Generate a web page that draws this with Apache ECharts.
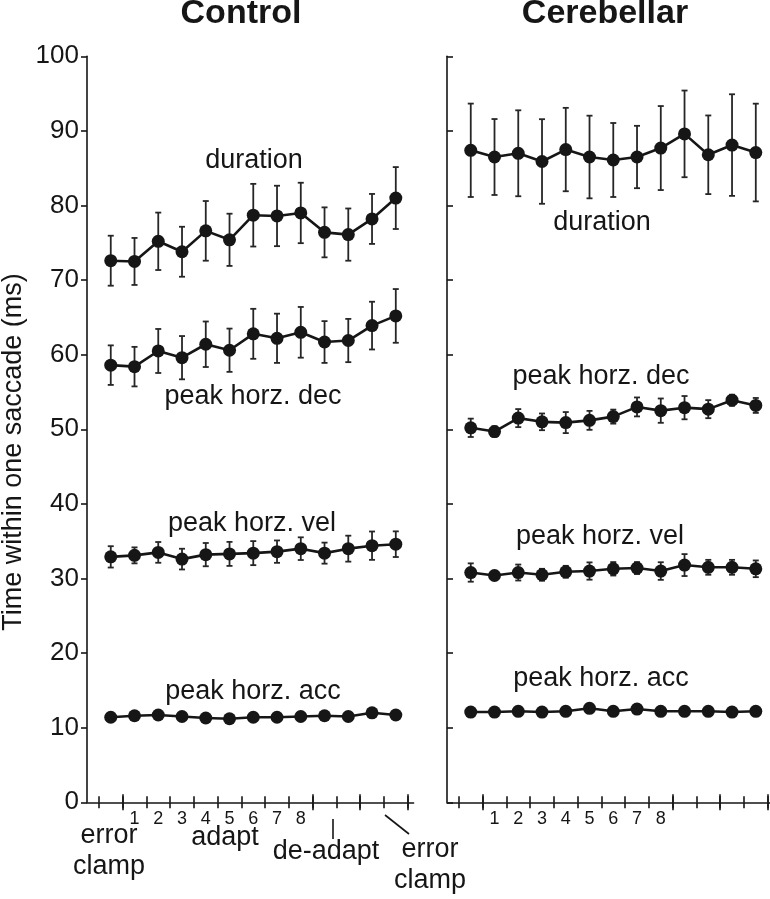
<!DOCTYPE html>
<html>
<head>
<meta charset="utf-8">
<script src="https://cdn.jsdelivr.net/npm/echarts@6/dist/echarts.min.js"></script>
<style>
html,body{margin:0;padding:0;background:#fff;}
#chart{width:770px;height:899px;}
</style>
</head>
<body>
<div id="chart"></div>
<script>
// ---- data ----
const trials = [1,2,3,4,5,6,7,8,9,10,11,12,13];

const ctrlDuration    = [72.6,72.5,75.2,73.8,76.6,75.4,78.7,78.6,79.0,76.4,76.1,78.2,81.0];
const ctrlDurationErr = [3.35,3.15,3.85,3.35,4.0,3.5,4.2,4.05,4.05,3.35,3.5,3.35,4.15];
const ctrlDec         = [58.6,58.4,60.5,59.6,61.4,60.6,62.8,62.2,63.0,61.7,61.9,63.9,65.2];
const ctrlDecErr      = [2.65,2.65,2.95,2.9,3.05,2.9,3.35,3.3,3.4,2.8,2.9,3.2,3.6];
const ctrlVel         = [32.9,33.1,33.5,32.6,33.2,33.3,33.4,33.6,34.0,33.4,34.0,34.4,34.6];
const ctrlVelErr      = [1.43,1.07,1.39,1.39,1.56,1.61,1.61,1.5,1.52,1.41,1.74,1.9,1.72];
const ctrlAcc         = [11.4,11.6,11.7,11.5,11.3,11.2,11.4,11.4,11.5,11.6,11.5,12.0,11.7];
const ctrlAccErr      = [0.4,0.4,0.4,0.4,0.4,0.4,0.4,0.4,0.4,0.4,0.4,0.4,0.4];

const cereDuration    = [87.4,86.5,87.0,85.9,87.5,86.5,86.1,86.5,87.7,89.6,86.8,88.1,87.1];
const cereDurationErr = [6.26,5.09,5.76,5.67,5.59,5.54,4.96,4.18,5.63,5.81,5.27,6.81,6.55];
const cereDec         = [50.2,49.7,51.5,51.0,50.9,51.2,51.7,53.0,52.5,52.9,52.7,53.9,53.2];
const cereDecErr      = [1.23,0.7,1.21,1.12,1.41,1.27,0.94,1.27,1.63,1.56,1.21,0.74,1.0];
const cereVel         = [30.8,30.4,30.8,30.5,30.9,31.0,31.3,31.4,31.0,31.8,31.5,31.5,31.3];
const cereVelErr      = [1.23,0.6,1.07,0.8,0.8,1.16,0.9,0.8,1.18,1.47,1.0,1.0,1.12];
const cereAcc         = [12.1,12.1,12.2,12.1,12.2,12.6,12.2,12.5,12.2,12.2,12.2,12.1,12.2];
const cereAccErr      = [0.4,0.4,0.4,0.4,0.4,0.4,0.4,0.4,0.4,0.4,0.4,0.4,0.4];

const minorTicks = [0.5,1.5,2.5,3.5,4.5,5.5,6.5,7.5,8.5,9.5,10.5,11.5,12.5,13.5];
const majorTicks = [1.5,9.5,11.5,13.5];
const trialLabelPos = [2,3,4,5,6,7,8,9];
const trialLabels = ['1','2','3','4','5','6','7','8'];
const yTicks = [0,10,20,30,40,50,60,70,80,90,100];

const panelTitles = ['Control','Cerebellar'];
const yAxisTitle = 'Time within one saccade (ms)';

// ---- chart ----
const FONT = '"Liberation Sans", Arial, Helvetica, sans-serif';
const INK = '#161616';
const chart = echarts.init(document.getElementById('chart'), null, {renderer:'canvas'});

const grids = [
  {left:87, top:56.3, width:326.6, height:746, outerBoundsMode:'none', containLabel:false},
  {left:447, top:56.3, width:326.6, height:746, outerBoundsMode:'none', containLabel:false}
];

const xAxes = [];
const yAxes = [];
[0,1].forEach(g => {
  const base = {type:'value', gridIndex:g, min:0, max:13.75, position:'bottom', splitLine:{show:false}};
  // main axis with outward minor ticks and labels
  xAxes.push(Object.assign({}, base, {
    axisLine:{show:true, onZero:false, lineStyle:{color:INK, width:1.6}},
    axisTick:{show:true, inside:false, length:6, customValues:minorTicks, lineStyle:{color:INK, width:1.6}},
    axisLabel:{show:true, customValues:trialLabelPos, margin:8, fontSize:18, color:INK, fontFamily:FONT,
      formatter: v => trialLabels[trialLabelPos.indexOf(v)] || ''}
  }));
  // inward minor ticks
  xAxes.push(Object.assign({}, base, {
    axisLine:{show:false, onZero:false},
    axisTick:{show:true, inside:true, length:6, customValues:minorTicks, lineStyle:{color:INK, width:1.6}},
    axisLabel:{show:false}
  }));
  // longer ticks at segment boundaries
  xAxes.push(Object.assign({}, base, {
    axisLine:{show:false, onZero:false},
    axisTick:{show:true, inside:true, length:8, customValues:majorTicks, lineStyle:{color:INK, width:1.6}},
    axisLabel:{show:false}
  }));
  xAxes.push(Object.assign({}, base, {
    axisLine:{show:false, onZero:false},
    axisTick:{show:true, inside:false, length:8, customValues:majorTicks, lineStyle:{color:INK, width:1.6}},
    axisLabel:{show:false}
  }));
  yAxes.push({
    type:'value', gridIndex:g, min:0, max:100, interval:10,
    splitLine:{show:false},
    axisLine:{show:true, onZero:false, lineStyle:{color:INK, width:1.6}},
    axisTick:{show:true, inside: g===1, length:6, lineStyle:{color:INK, width:1.6}},
    axisLabel:{show: g===0, margin:8, fontSize:26, color:INK, fontFamily:FONT}
  });
});

function errSeries(means, errs, g) {
  return {
    type:'custom', xAxisIndex:g*4, yAxisIndex:g, z:2, silent:true,
    data: trials.map((t,i) => [t, means[i], errs[i]]),
    renderItem: function(params, api) {
      const x = api.value(0), m = api.value(1), e = api.value(2);
      const top = api.coord([x, m + e]);
      const bot = api.coord([x, m - e]);
      const hw = 3;
      const st = {stroke:'#262626', lineWidth:1.8};
      return {type:'group', children:[
        {type:'line', shape:{x1:top[0], y1:top[1], x2:bot[0], y2:bot[1]}, style:st},
        {type:'line', shape:{x1:top[0]-hw, y1:top[1], x2:top[0]+hw, y2:top[1]}, style:st},
        {type:'line', shape:{x1:bot[0]-hw, y1:bot[1], x2:bot[0]+hw, y2:bot[1]}, style:st}
      ]};
    }
  };
}
function lineSeries(means, g) {
  return {
    type:'line', xAxisIndex:g*4, yAxisIndex:g, z:3, silent:true,
    data: trials.map((t,i) => [t, means[i]]),
    symbol:'circle', symbolSize:13,
    lineStyle:{color:INK, width:2.6},
    itemStyle:{color:INK, borderWidth:0},
    animation:false
  };
}

const groups = [
  [ctrlDuration, ctrlDurationErr, 0],
  [ctrlDec, ctrlDecErr, 0],
  [ctrlVel, ctrlVelErr, 0],
  [ctrlAcc, ctrlAccErr, 0],
  [cereDuration, cereDurationErr, 1],
  [cereDec, cereDecErr, 1],
  [cereVel, cereVelErr, 1],
  [cereAcc, cereAccErr, 1]
];
const series = [];
groups.forEach(([m,e,g]) => { series.push(errSeries(m,e,g)); series.push(lineSeries(m,g)); });

function txt(text, x, y, size, opts) {
  return Object.assign({
    type:'text', x:x, y:y, silent:true,
    style:{text:text, fill:INK, font: (opts && opts.bold ? 'bold ' : '') + size + 'px ' + FONT,
      textAlign:'center', textVerticalAlign:'middle'}
  }, opts && opts.rotation !== undefined ? {rotation:opts.rotation} : {});
}

const graphics = [
  txt(panelTitles[0], 241, 14, 34, {bold:true}),
  txt(panelTitles[1], 605, 14, 34, {bold:true}),
  txt(yAxisTitle, 14, 452, 27, {rotation:Math.PI/2}),
  txt('duration', 254, 160.5, 27),
  txt('peak horz. dec', 253, 397, 27),
  txt('peak horz. vel', 252, 524, 27),
  txt('peak horz. acc', 253, 692, 27),
  txt('duration', 602, 223, 27),
  txt('peak horz. dec', 601, 377, 27),
  txt('peak horz. vel', 600, 537, 27),
  txt('peak horz. acc', 601, 679, 27),
  txt('error', 109, 836, 27),
  txt('clamp', 109, 867, 27),
  txt('adapt', 225, 838, 27),
  txt('de-adapt', 326, 852, 27),
  txt('error', 430, 850, 27),
  txt('clamp', 430, 881, 27),
  {type:'line', silent:true, shape:{x1:333, y1:819, x2:333, y2:839}, style:{stroke:INK, lineWidth:1.6}},
  {type:'line', silent:true, shape:{x1:385, y1:815, x2:409, y2:834}, style:{stroke:INK, lineWidth:1.6}}
];

chart.setOption({
  animation:false,
  backgroundColor:'#ffffff',
  grid: grids,
  xAxis: xAxes,
  yAxis: yAxes,
  series: series,
  graphic: graphics
});
</script>
</body>
</html>
